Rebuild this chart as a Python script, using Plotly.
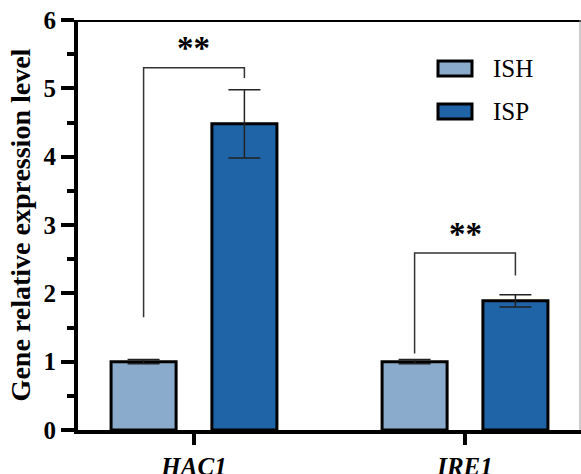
import plotly.graph_objects as go

# ---- data ----
categories = ["HAC1", "IRE1"]
tick_labels = ["<b><i>HAC1</i></b>", "<b><i>IRE1</i></b>"]
series_names = ["ISH", "ISP"]
ish_values = [1.0, 1.0]
ish_errors = [0.03, 0.03]
isp_values = [4.48, 1.89]
isp_errors = [0.50, 0.09]
sig_labels = ["**", "**"]
bracket_top = [5.30, 2.59]        # horizontal part of bracket
bracket_left_bottom = [1.65, 1.12]
bracket_right_bottom = [5.15, 2.26]
sig_label_y = [5.59, 2.87]

# ---- style ----
W, H = 581, 474
L, R, T, B = 78, 0, 20, 44
colors = ["#8aabcb", "#1f64a7"]
font = "Liberation Serif"
bargap = 0.256
bargroupgap = 0.355

pw = W - L - R
ph = H - T - B


def px_x(p):
    return (p - L) / pw


def px_y(p):
    return (H - B - p) / ph


fig = go.Figure()
for name, vals, errs, col in [
    (series_names[0], ish_values, ish_errors, colors[0]),
    (series_names[1], isp_values, isp_errors, colors[1]),
]:
    fig.add_trace(go.Bar(
        name=name, x=categories, y=vals,
        marker=dict(color=col, line=dict(color="black", width=3)),
        error_y=dict(type="data", array=errs, visible=True,
                     color="#222222", thickness=1.5, width=16),
        showlegend=False,
    ))

# significance brackets (positions derived from the group layout)
slot = (1 - bargap) / 2
off = slot / 2
for i, cat in enumerate(categories):
    xl, xr = i - off, i + off
    fig.add_shape(type="path", xref="x", yref="y",
                  path=f"M{xl},{bracket_left_bottom[i]} L{xl},{bracket_top[i]} "
                       f"L{xr},{bracket_top[i]} L{xr},{bracket_right_bottom[i]}",
                  line=dict(color="#333333", width=1.5))
    fig.add_annotation(x=i, y=sig_label_y[i], xref="x", yref="y",
                       text=f"<b>{sig_labels[i]}</b>", showarrow=False,
                       font=dict(family=font, size=33, color="black"),
                       yanchor="middle")

# frame lines at top and right
fig.add_shape(type="line", xref="paper", yref="y", x0=px_x(62), x1=px_x(W + 2),
              y0=6, y1=6, line=dict(color="black", width=4))
fig.add_shape(type="line", xref="paper", yref="y", x0=px_x(580), x1=px_x(580),
              y0=0, y1=6, line=dict(color="#9a9a9a", width=1))

# legend (swatches + labels)
leg_rows = [(61, 76, 68), (104, 119, 111.5)]
for (y0, y1, yc), name, col in zip(leg_rows, series_names, colors):
    fig.add_shape(type="rect", xref="paper", yref="paper",
                  x0=px_x(438), x1=px_x(472), y0=px_y(y1), y1=px_y(y0),
                  fillcolor=col, line=dict(color="black", width=3))
    fig.add_annotation(x=px_x(491), y=px_y(yc), xref="paper", yref="paper",
                       text=name, showarrow=False, xanchor="left", yanchor="middle",
                       font=dict(family=font, size=25, color="black"))

fig.update_layout(
    width=W, height=H,
    margin=dict(l=L, r=R, t=T, b=B, pad=0),
    paper_bgcolor="white", plot_bgcolor="white",
    barmode="group", bargap=bargap, bargroupgap=bargroupgap,
    font=dict(family=font, size=24, color="black"),
)
fig.update_xaxes(
    type="category", range=[-0.428, 1.428], automargin=False,
    tickvals=categories, ticktext=tick_labels,
    showline=True, linewidth=4, linecolor="black",
    ticks="outside", ticklen=11, tickwidth=4, tickcolor="black",
    showgrid=False, zeroline=False,
    tickfont=dict(family=font, size=25, color="black"),
)
fig.update_yaxes(
    range=[0, 6], dtick=1, tick0=0, automargin=False,
    showline=True, linewidth=4, linecolor="black",
    ticks="outside", ticklen=13, tickwidth=4, tickcolor="black",
    minor=dict(dtick=0.5, ticks="outside", ticklen=7, tickwidth=4, tickcolor="black"),
    showgrid=False, zeroline=False,
    tickfont=dict(family=font, size=25, color="black"),
    tickprefix="<b>", ticksuffix="</b>",
    title=dict(text="<b>Gene relative expression level</b>",
               font=dict(family=font, size=28, color="black"), standoff=6),
)

fig.write_html("out.html",
               config={"displayModeBar": False},
               post_script="document.body.style.margin='0';document.body.style.padding='0';")
